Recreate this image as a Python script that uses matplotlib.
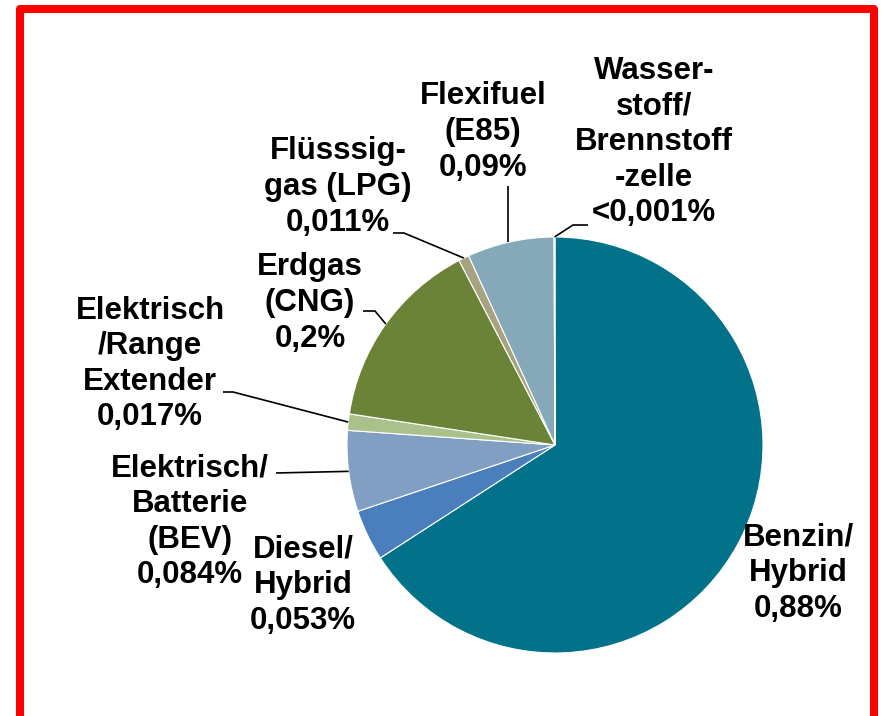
import matplotlib
matplotlib.use("Agg")
import matplotlib.pyplot as plt
from matplotlib.patches import Rectangle
import numpy as np

W, H = 881, 716

labels = ["Benzin/\nHybrid\n0,88%",
          "Diesel/\nHybrid\n0,053%",
          "Elektrisch/\nBatterie\n(BEV)\n0,084%",
          "Elektrisch\n/Range\nExtender\n0,017%",
          "Erdgas\n(CNG)\n0,2%",
          "Flüsssig-\ngas (LPG)\n0,011%",
          "Flexifuel\n(E85)\n0,09%",
          "Wasser-\nstoff/\nBrennstoff\n-zelle\n<0,001%"]
values = [0.88, 0.053, 0.084, 0.017, 0.2, 0.011, 0.09, 0.001]
colors = ["#02718A", "#4A7EBD", "#819FC2", "#AAC18C", "#6A8337",
          "#A7A381", "#86A9BA", "#4F81BD"]

# label centres in pixel coords (origin top-left)
label_pos = [(798, 573), (303, 585), (190, 522), (150, 364),
             (310, 303), (338, 187), (483, 132), (654, 142)]
# leader line path after the wedge anchor (None = no leader)
leaders = [None, None,
           [(276, 473)],
           [(233, 392), (223, 392)],
           [(375, 311), (363, 311)],
           [(404, 233), (393, 233)],
           "up",
           [(573, 225), (588, 225)]]

fig = plt.figure(figsize=(W / 100, H / 100), dpi=100)
ax = fig.add_axes([0, 0, 1, 1])

cx, cy, r = 555, H - 445, 208
wedges, _ = ax.pie(values, colors=colors, startangle=90, counterclock=False,
                   center=(cx, cy), radius=r, frame=True,
                   wedgeprops=dict(edgecolor="white", linewidth=0.8))
ax.set_xlim(0, W)
ax.set_ylim(0, H)
ax.set_aspect("equal")
ax.axis("off")

font = dict(family=["Liberation Sans", "Arial", "DejaVu Sans"],
            fontsize=22.5, fontweight="bold")

for w, lab, (lx, ly), ld in zip(wedges, labels, label_pos, leaders):
    ax.text(lx, H - ly, lab, ha="center", va="center", ma="center",
            linespacing=1.24, color="black", **font)
    if ld is None:
        continue
    a = np.deg2rad((w.theta1 + w.theta2) / 2)
    x0 = cx + r * np.cos(a)
    y0 = cy + r * np.sin(a)
    if ld == "up":
        x0 -= 2
        xs, ys = [x0, x0], [y0, H - 186]
    else:
        xs = [x0] + [p[0] for p in ld]
        ys = [y0] + [H - p[1] for p in ld]
    ax.plot(xs, ys, color="black", linewidth=1.2, solid_capstyle="butt")

# red frame
ax.add_patch(Rectangle((19.5, H - 722), 854.5, 713, fill=False,
                       edgecolor="#FF0000", linewidth=5.8, joinstyle="round",
                       clip_on=False))

fig.savefig("out.png", dpi=100)
